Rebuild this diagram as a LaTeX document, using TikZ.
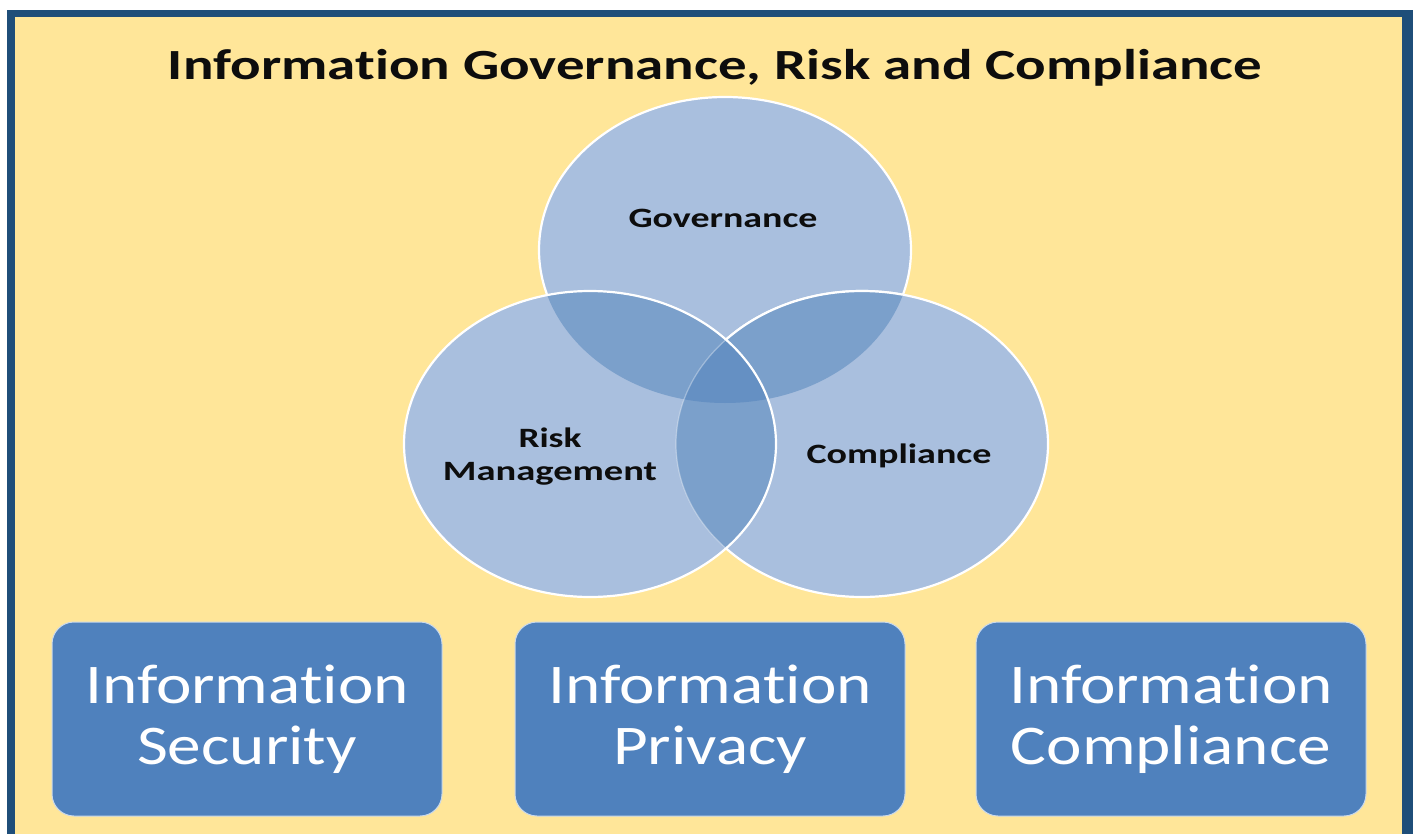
\documentclass[tikz,border=0pt]{standalone}
\usepackage{fontspec}
\setmainfont[Ligatures=NoCommon]{Carlito}
\usepackage{graphicx}
\definecolor{frameblue}{HTML}{1F4E79}
\definecolor{bgyellow}{HTML}{FFE699}
\definecolor{vsingle}{HTML}{A9BFDE}
\definecolor{vdouble}{HTML}{7BA0CB}
\definecolor{vtriple}{HTML}{6590C3}
\definecolor{boxblue}{HTML}{4F81BD}
\definecolor{labeltxt}{HTML}{0D0D0D}
\newcommand\wtxt[1]{\scalebox{1.2}[1]{#1}}
\newcommand\infoword{Informat\kern0pt ion}
\begin{document}
\begin{tikzpicture}[x=1pt,y=-1pt,
  vr/.style={x radius=186pt,y radius=153pt},
  vedge/.style={draw=white,line width=2.2pt},
  titlestyle/.style={font=\bfseries\fontsize{43}{50}\selectfont,text=labeltxt,inner sep=0pt,anchor=base},
  lbl/.style={font=\bfseries\fontsize{28}{33}\selectfont,text=labeltxt,inner sep=0pt,anchor=base},
  infobox/.style={fill=boxblue,draw=white!70!boxblue,line width=1pt,rounded corners=22pt,
    minimum width=390pt,minimum height=194pt,text=white,align=center,
    font=\fontsize{56}{61}\selectfont,inner sep=0pt}
]
\useasboundingbox (0,0) rectangle (1413,834);
\fill[white] (0,0) rectangle (1413,834);
\fill[frameblue] (7,10) rectangle (1413,834);
\fill[bgyellow] (15,17) rectangle (1402,834);

\node[titlestyle] (title) at (715,80) {\resizebox{1094pt}{\height}{\infoword{} Governance, Risk and Compliance}};

\coordinate (gc) at (725,250);
\coordinate (rc) at (590,444);
\coordinate (cc) at (862,444);

% Governance
\fill[vsingle] (gc) ellipse[vr];
\draw[vedge] (gc) ellipse[vr];
% Compliance
\fill[vsingle] (cc) ellipse[vr];
\draw[vedge] (cc) ellipse[vr];
\begin{scope}
  \clip (gc) ellipse[vr];
  \fill[vdouble] (cc) ellipse[vr];
  \draw[vedge] (cc) ellipse[vr];
\end{scope}
% Risk Management
\fill[vsingle] (rc) ellipse[vr];
\begin{scope}
  \clip (rc) ellipse[vr];
  \fill[vdouble] (gc) ellipse[vr];
  \fill[vdouble] (cc) ellipse[vr];
  \begin{scope}
    \clip (gc) ellipse[vr];
    \fill[vtriple] (cc) ellipse[vr];
  \end{scope}
  \draw[draw=white,draw opacity=0.35,line width=1.2pt] (cc) ellipse[vr];
\end{scope}
\draw[vedge] (rc) ellipse[vr];

\node[lbl] (govlbl) at (723,228) {\resizebox{189pt}{\height}{Governance}};
\node[lbl] (risklbl) at (550,447) {\resizebox{63pt}{\height}{Risk}};
\node[lbl] (mgmtlbl) at (550,480) {\resizebox{214pt}{\height}{Management}};
\node[lbl] (complbl) at (899,463) {\resizebox{185pt}{\height}{Compliance}};

\node[infobox] (secbox) at (247,719) {\wtxt{\infoword}\\\wtxt{Security}};
\node[infobox] (privbox) at (710,719) {\wtxt{\infoword}\\\wtxt{Privacy}};
\node[infobox] (compbox) at (1171,719) {\wtxt{\infoword}\\\wtxt{Compliance}};
\end{tikzpicture}
\end{document}
